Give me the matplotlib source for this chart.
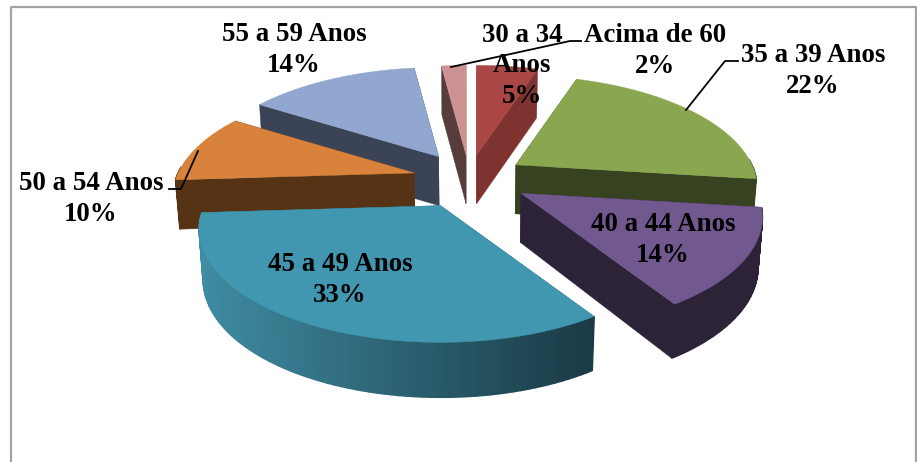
import numpy as np
import matplotlib
matplotlib.use('Agg')
import matplotlib.pyplot as plt
from matplotlib.colors import to_rgb

# faixas na ordem horaria, comecando no topo
faixas = ['30 a 34\nAnos', '35 a 39 Anos', '40 a 44 Anos', '45 a 49 Anos', '50 a 54 Anos', '55 a 59 Anos', 'Acima de 60']
valores = [5, 22, 14, 33, 10, 14, 2]

# deslocamento de cada fatia no plano da pizza
explode_u = [0.039, 0.207, 0.217, -0.110, -0.229, -0.129, -0.009]
explode_v = [0.196, 0.096, -0.164, -0.268, 0.019, 0.176, 0.196]
topo = ['#AA4644', '#8AA64F', '#71588F', '#4197AF', '#D9823B', '#92A7CF', '#CD9291']
lado = ['#7F3331', '#374220', '#2D2339', '#2B6070', '#573316', '#3A4456', '#573C3C']
# ordem de pintura, do fundo para a frente
ordem = [6, 0, 5, 1, 4, 2, 3]

# posicao dos rotulos em pixels: x centro, y centro
pos_rotulos = [(522, 66), (813, 71), (663, 240), (340, 280), (91, 199), (294, 50), (655, 51)]

CX, CY = 468, 175
A, B, P = 236, 108, 0.21


def proj(u, v):
    w = 1 + P * v
    return A * u / w, -B * v / w


fig = plt.figure(figsize=(9.17, 4.62), dpi=100)
ax = fig.add_axes([0, 0, 1, 1])
ax.set_xlim(0, 917)
ax.set_ylim(462, 0)
ax.axis('off')

ax.plot([10.5, 10.5, 915.5, 915.5], [462, 6.5, 6.5, 462], color='#A3A3A3', lw=1.6)

fracs = np.array(valores) / sum(valores)
fim = np.cumsum(fracs)
ini = fim - fracs

for i in ordem:
    t1 = np.pi / 2 - 2 * np.pi * ini[i]
    t2 = np.pi / 2 - 2 * np.pi * fim[i]
    th = np.linspace(t1, t2, 80)
    dx, dy = proj(explode_u[i], explode_v[i])
    xa, ya = CX + dx, CY + dy
    px, py = proj(np.cos(th), np.sin(th))
    xs, ys = xa + px, ya + py
    # base da fatia, com leve convergencia
    h = 49 - 6 * np.minimum(np.sin(th), 0)
    xb, yb = CX + (xs - CX) * 0.985, ys + h
    xab, yab = CX + (xa - CX) * 0.985, ya + 49

    # faces de corte
    for k in [0, -1]:
        ax.fill([xa, xs[k], xb[k], xab], [ya, ys[k], yb[k], yab], color=lado[i], lw=0.3)

    # parede externa
    for k in range(len(th) - 1):
        if np.sin(th[k]) > 0.05:
            continue
        cor = lado[i]
        if faixas[i].startswith('45'):
            # degrade da fatia maior
            f = (xs[k] - xs.min()) / (xs.max() - xs.min())
            c1 = np.array(to_rgb('#3F8CA3'))
            c2 = np.array(to_rgb('#1A3A45'))
            cor = tuple(c1 + (c2 - c1) * f)
        ax.fill([xs[k], xs[k + 1], xb[k + 1], xb[k]], [ys[k], ys[k + 1], yb[k + 1], yb[k]],
                color=cor, lw=1.0)

    ax.fill(np.r_[xa, xs], np.r_[ya, ys], color=topo[i], lw=0.3)

# linhas de chamada
ax.plot([451, 570, 581], [67, 41, 41], color='black', lw=1.3)
ax.plot([686, 725, 738], [110, 61, 61], color='black', lw=1.3)
ax.plot([198, 181, 169], [151, 189, 189], color='black', lw=1.3)

for i in range(len(faixas)):
    ax.text(pos_rotulos[i][0], pos_rotulos[i][1], faixas[i] + '\n' + str(valores[i]) + '%',
            ha='center', va='center', ma='center', family='Liberation Serif', weight='bold',
            fontsize=19.4, color='black', linespacing=1.3)

fig.savefig('out.png', dpi=100)
